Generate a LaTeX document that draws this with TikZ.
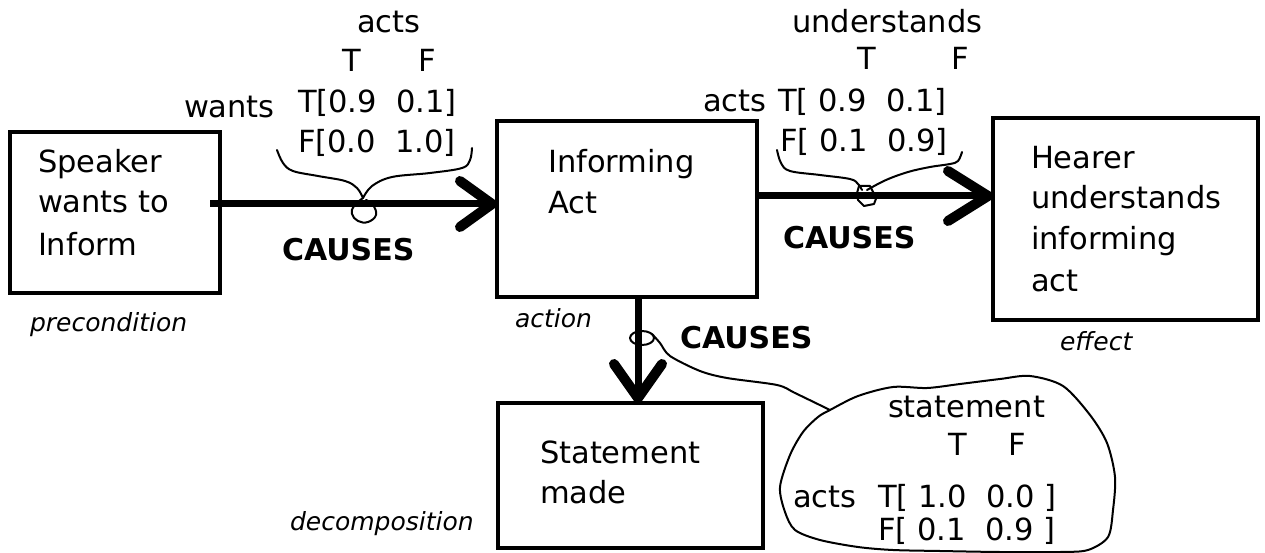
\documentclass[tikz,border=0pt]{standalone}
\usepackage{fontspec}
\setmainfont{DejaVu Sans}
\usetikzlibrary{arrows.meta}
\begin{document}
\begin{tikzpicture}[x=1pt,y=-1pt,
  every node/.style={inner sep=0pt, outer sep=0pt},
  txt/.style={anchor=base west, font=\fontsize{30.5}{36}\selectfont},
  boldtxt/.style={anchor=base west, font=\fontsize{30}{36}\selectfont\bfseries},
  ctr/.style={anchor=base, font=\fontsize{30.5}{36}\selectfont},
  role/.style={anchor=base west, font=\fontsize{25}{30}\selectfont\itshape},
  box/.style={draw, line width=4pt, rectangle},
  conn/.style={line width=7pt},
  barb/.style 2 args={-{Straight Barb[length=#1, width=#2, line width=10pt, round]}},
  scrawl/.style={line width=2pt, line join=round, line cap=round}
]
\useasboundingbox (0,0) rectangle (1265,553);

% the four situations
\node[box, minimum width=210pt, minimum height=161pt] (spk)  at (115,212.5) {};
\node[box, minimum width=260pt, minimum height=176pt] (inf)  at (627,209) {};
\node[box, minimum width=265pt, minimum height=202pt] (hear) at (1125.5,219) {};
\node[box, minimum width=265pt, minimum height=145pt] (stm)  at (630.5,475.5) {};

% box texts
\node[txt] (spk1) at (38,173) {Speaker};
\node[txt] (spk2) at (38,213) {wants to};
\node[txt] (spk3) at (38,255) {Inform};
\node[txt] (inf1) at (548,173) {Informing};
\node[txt] (inf2) at (548,214) {Act};
\node[txt] (hr1) at (1031,169) {Hearer};
\node[txt] (hr2) at (1031,209) {understands};
\node[txt] (hr3) at (1031,249) {informing};
\node[txt] (hr4) at (1031,291) {act};
\node[txt] (st1) at (540,463) {Statement};
\node[txt] (st2) at (540,503) {made};

% role labels
\node[role] (rpre) at (30,331) {precondition};
\node[role] (ract) at (515,327) {action};
\node[role] (reff) at (1060,350) {effect};
\node[role] (rdec) at (290,530) {decomposition};

% causal links
\coordinate (a1) at ([yshift=8.5pt]spk.east);
\coordinate (a2) at ([yshift=13pt]inf.east);
\coordinate (a3) at ([xshift=11pt]inf.south);
\draw[conn, barb={32pt}{46pt}] ([xshift=-10pt]a1) -- (a1 -| inf.west);
\draw[conn, barb={40pt}{50pt}] (a2) -- (a2 -| hear.west);
\draw[conn, barb={34pt}{48pt}] (a3) -- (a3 |- stm.north);

\node[boldtxt] (c1) at (282,260) {CAUSES};
\node[boldtxt] (c2) at (783,248) {CAUSES};
\node[boldtxt] (c3) at (680,348) {CAUSES};

% table on the first link
\node[txt] (t1h) at (357,33) {acts};
\node[ctr] (t1T) at (352,72) {T};
\node[ctr] (t1F) at (427,72) {F};
\node[txt] (t1r1) at (298,113) {T[0.9\ \ 0.1]};
\node[txt] (t1r2) at (298,153) {F[0.0\ \ 1.0]};
\node[txt] (t1w) at (184,118) {wants};
\draw[scrawl] plot[smooth, tension=0.6] coordinates
  {(277,150) (283,163) (293,171) (318,176) (345,181) (357,188) (363,198)};
\draw[scrawl] plot[smooth, tension=0.6] coordinates
  {(472,148) (470,160) (462,168) (430,173) (392,177) (372,186) (363,198)};
\draw[scrawl] plot[smooth, tension=0.7] coordinates
  {(363,198) (354,206) (352,214) (358,221) (368,222) (376,215) (373,205) (366,200)};

% table on the second link
\node[txt] (t2h) at (792,33) {understands};
\node[ctr] (t2T) at (867,70) {T};
\node[ctr] (t2F) at (960,70) {F};
\node[txt] (t2a) at (703,112) {acts};
\node[txt] (t2r1) at (778,112) {T[ 0.9\ \ 0.1]};
\node[txt] (t2r2) at (780,152) {F[ 0.1\ \ 0.9]};
\draw[scrawl] plot[smooth, tension=0.6] coordinates
  {(777,150) (781,163) (790,171) (820,175) (850,179) (858,184) (862,190)};
\draw[scrawl] plot[smooth, tension=0.6] coordinates
  {(962,152) (958,161) (950,164) (930,167) (908,172) (886,180) (867,190)};
\draw[scrawl] (859,186) -- (870,186) -- (873,192) -- (877,196) -- (874,204)
  -- (864,206) -- (858,200) -- (857,193) -- cycle;

% table on the third link
\draw[scrawl] (642,338) ellipse [x radius=12pt, y radius=7pt];
\coordinate (lk) at (830,410);
\draw[scrawl] plot[smooth, tension=0.5] coordinates
  {(652,334) (660,343) (670,356) (700,371) (727,378) (777,385) (795,393) (830,410)};
\draw[scrawl] plot[smooth cycle, tension=0.5] coordinates
  {(830,410) (858,396) (893,387) (927,388) (960,384) (1000,379) (1030,376)
   (1063,386) (1090,415) (1107,443) (1115,477) (1113,510) (1108,537)
   (1088,550) (1060,552) (1000,552) (940,551) (893,550) (858,547) (820,540)
   (795,530) (785,512) (780,487) (790,455) (803,432) (818,417)};
\node[txt] (t3h) at (888,417) {statement};
\node[ctr] (t3T) at (958,455) {T};
\node[ctr] (t3F) at (1017,455) {F};
\node[txt] (t3a) at (793,507) {acts};
\node[txt] (t3r1) at (878,507) {T[ 1.0\ \ 0.0 ]};
\node[txt] (t3r2) at (878,540) {F[ 0.1\ \ 0.9 ]};
\end{tikzpicture}
\end{document}
